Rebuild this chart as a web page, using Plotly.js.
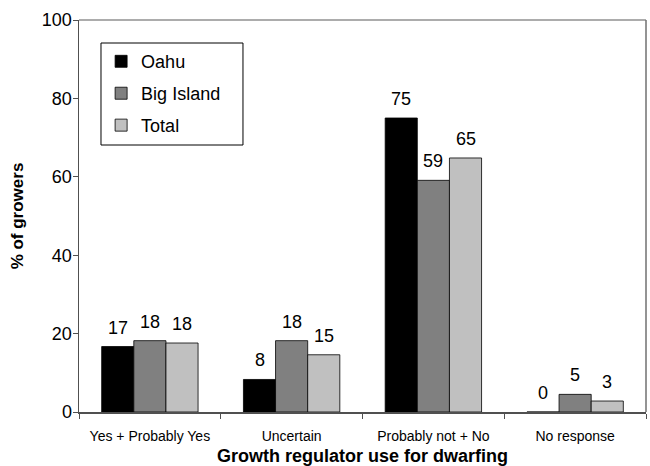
<!DOCTYPE html>
<html>
<head>
<meta charset="utf-8">
<script src="https://cdn.plot.ly/plotly-3.0.1.min.js"></script>
<style>html,body{margin:0;padding:0;background:#fff;}#chart{width:650px;height:466px;}</style>
</head>
<body>
<div id="chart"></div>
<script>
const categories = ['Yes + Probably Yes', 'Uncertain', 'Probably not + No', 'No response'];
const seriesNames = ['Oahu', 'Big Island', 'Total'];
const oahu = [16.7, 8.3, 75.0, 0];
const bigIsland = [18.2, 18.2, 59.1, 4.5];
const total = [17.6, 14.6, 64.8, 2.8];
const oahuLabels = ['17', '8', '75', '0'];
const bigIslandLabels = ['18', '18', '59', '5'];
const totalLabels = ['18', '15', '65', '3'];
const yTicks = [0, 20, 40, 60, 80, 100];

const FONT = '"Liberation Sans", Arial, sans-serif';
const colors = ['#000000', '#808080', '#c0c0c0'];
const values = [oahu, bigIsland, total];
const labels = [oahuLabels, bigIslandLabels, totalLabels];

const W = 650, H = 466;
const margin = {l: 79, r: 4, t: 20, b: 54};
const bargap = 0.32;
const plotW = W - margin.l - margin.r;
const barW = plotW / categories.length * (1 - bargap) / seriesNames.length;

const traces = seriesNames.map((name, i) => ({
  type: 'bar',
  name: name,
  x: categories,
  y: values[i],
  legendgroup: 'g' + i,
  marker: {color: colors[i], line: {color: '#000', width: 0.8}},
  hoverinfo: 'none'
}));

const annotations = [];
seriesNames.forEach((name, i) => {
  categories.forEach((c, j) => {
    annotations.push({
      x: c, y: values[i][j], xref: 'x', yref: 'y',
      text: labels[i][j], showarrow: false,
      xanchor: 'center', yanchor: 'bottom',
      xshift: (i - 1) * barW, yshift: 7,
      font: {family: FONT, size: 18, color: '#000'}
    });
  });
});

const layout = {
  width: W, height: H,
  margin: margin,
  paper_bgcolor: '#fff', plot_bgcolor: '#fff',
  font: {family: FONT, color: '#000'},
  barmode: 'group',
  bargap: bargap,
  bargroupgap: 0,
  showlegend: true,
  legend: {
    x: 0.039, y: 0.941, xanchor: 'left', yanchor: 'top',
    bgcolor: 'rgba(0,0,0,0)', borderwidth: 0,
    font: {family: FONT, size: 18, color: '#000'},
    traceorder: 'grouped', tracegroupgap: 5.5
  },
  xaxis: {
    type: 'category',
    showline: true, linecolor: '#505050', linewidth: 1.5,
    ticks: 'outside', tickson: 'boundaries', ticklen: 5, tickcolor: '#505050',
    ticklabelstandoff: 11,
    tickfont: {family: FONT, size: 14, color: '#000'},
    showgrid: false, zeroline: false,
    title: {text: '<b>Growth regulator use for dwarfing</b>', font: {family: FONT, size: 18, color: '#000'}, standoff: 7}
  },
  yaxis: {
    range: [0, 100], tickvals: yTicks,
    showline: true, linecolor: '#505050', linewidth: 1.5,
    ticks: 'outside', ticklen: 5, tickcolor: '#505050',
    ticklabelstandoff: -3,
    tickfont: {family: FONT, size: 18, color: '#000'},
    showgrid: false, zeroline: false,
    title: {text: '<b>% of growers</b>', font: {family: FONT, size: 17, color: '#000'}, standoff: 14}
  },
  annotations: annotations,
  shapes: [
    {type: 'line', xref: 'paper', yref: 'paper', x0: 0, x1: 1, y0: 1, y1: 1, line: {color: '#909090', width: 1.5}},
    {type: 'line', xref: 'paper', yref: 'paper', x0: 1, x1: 1, y0: 0, y1: 1, line: {color: '#707070', width: 1.5}},
    {type: 'rect', xref: 'paper', yref: 'paper', x0: 0.0388, x1: 0.2892, y0: 0.6811, y1: 0.9413,
     fillcolor: '#fff', line: {color: '#000', width: 1}, layer: 'above'}
  ]
};

Plotly.newPlot('chart', traces, layout, {displayModeBar: false, staticPlot: true});
</script>
</body>
</html>
